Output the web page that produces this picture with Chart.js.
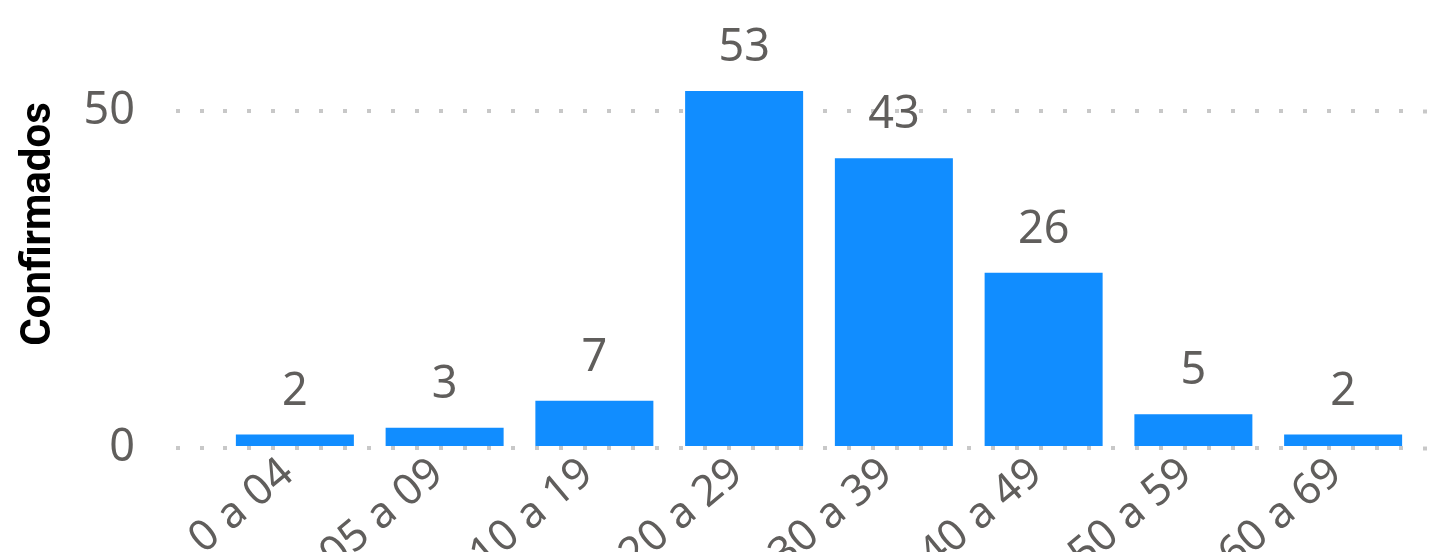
<!DOCTYPE html>
<html>
<head>
<meta charset="utf-8">
<script src="https://cdn.jsdelivr.net/npm/chart.js@4.4.1/dist/chart.umd.min.js"></script>
<style>
html,body{margin:0;padding:0;background:#fff;}
#wrap{width:1448px;height:552px;position:relative;}
</style>
</head>
<body>
<div id="wrap"><canvas id="c"></canvas></div>
<script>
const categories = ["0 a 04","05 a 09","10 a 19","20 a 29","30 a 39","40 a 49","50 a 59","60 a 69"];
const confirmados = [2,3,7,53,43,26,5,2];
const yTicks = [0,50];
const yMax = 66.5;

const barColor = '#118DFF';
const textGray = '#605E5C';
const gridGray = '#C8C8C8';

const dataLabels = {
  id:'dataLabels',
  afterDatasetsDraw(chart){
    const ctx = chart.ctx;
    ctx.save();
    ctx.font = '45px "Noto Sans"';
    ctx.fillStyle = textGray;
    ctx.textAlign = 'center';
    ctx.textBaseline = 'alphabetic';
    chart.data.datasets.forEach((ds,i)=>{
      chart.getDatasetMeta(i).data.forEach((el,j)=>{
        ctx.fillText(String(ds.data[j]), el.x, el.y - 30);
      });
    });
    ctx.restore();
  }
};

const keepTicks = (scale)=>{ scale.ticks = yTicks.map(v=>({value:v})); };
const noPadV = (scale)=>{ scale.paddingTop = 0; scale.paddingBottom = 0; };

new Chart(document.getElementById('c'), {
  type:'bar',
  data:{
    labels: categories,
    datasets:[{
      label:'Confirmados',
      data: confirmados,
      backgroundColor: barColor,
      barPercentage: 0.788,
      categoryPercentage: 1.0
    }]
  },
  options:{
    responsive:true,
    maintainAspectRatio:false,
    animation:false,
    devicePixelRatio:1,
    layout:{padding:{top:0,left:0,right:0,bottom:0}},
    plugins:{legend:{display:false},tooltip:{enabled:false}},
    scales:{
      x:{
        grid:{display:false},
        border:{display:false},
        ticks:{
          color:textGray,
          font:{family:'"Noto Sans"', size:43},
          minRotation:40, maxRotation:40,
          padding:-8,
          labelOffset:-7,
          autoSkip:false
        },
        afterFit(scale){ scale.height = 104; scale.paddingLeft = 0; scale.paddingRight = 0; }
      },
      y:{
        min:0, max:yMax,
        afterBuildTicks: keepTicks,
        border:{display:false, dash:[4,20], dashOffset:21},
        grid:{
          color:gridGray, lineWidth:4,
          drawTicks:true, tickLength:44, tickColor:gridGray, tickWidth:4, tickBorderDash:[4,20]
        },
        ticks:{
          color:textGray,
          font:{family:'"Noto Sans"', size:45},
          padding:41
        },
        title:{
          display:true,
          text:'Confirmados',
          color:'#000',
          font:{family:'Roboto', size:42, weight:'bold'},
          padding:{top:14,bottom:0}
        },
        afterFit(scale){ scale.width = 220; noPadV(scale); }
      },
      y2:{
        position:'right',
        min:0, max:yMax,
        afterBuildTicks: keepTicks,
        border:{display:false},
        grid:{
          drawOnChartArea:false,
          drawTicks:true, tickLength:12, tickColor:gridGray, tickWidth:4,
          tickBorderDash:[4,20], tickBorderDashOffset:19
        },
        ticks:{display:false},
        afterFit(scale){ scale.width = 30; noPadV(scale); }
      }
    }
  },
  plugins:[dataLabels]
});
</script>
</body>
</html>
